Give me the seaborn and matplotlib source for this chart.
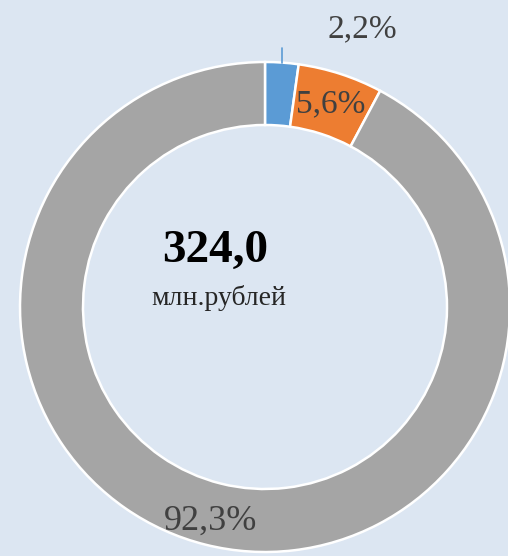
import numpy as np
import matplotlib
matplotlib.use("Agg")
import matplotlib.pyplot as plt
import seaborn as sns

# данные
categories = ["Прочее", "Категория 2", "Категория 3"]
shares = [2.2, 5.6, 92.3]
labels = ["2,2%", "5,6%", "92,3%"]
colors = ["#5b9bd5", "#ed7d31", "#a5a5a5"]
total_value = "324,0"
total_unit = "млн.рублей"

sns.set_theme(style="white")
plt.rcParams["font.family"] = ["Liberation Serif", "DejaVu Serif"]

bg = "#dce6f2"
fig = plt.figure(figsize=(5.08, 5.56), dpi=100, facecolor=bg)
ax = fig.add_axes([0, 0, 1, 1])
ax.set_facecolor(bg)

cx, cy, R, w = 265, 249, 245, 63
wedges, _ = ax.pie(shares, colors=colors, startangle=90, counterclock=False,
                   radius=R, center=(cx, cy),
                   wedgeprops=dict(width=w, edgecolor="white", linewidth=1.8))

txt = "#404040"
# подписи долей по середине сегментов
cum = np.cumsum([0] + shares[:-1])
total = sum(shares)
for i, (s, lab) in enumerate(zip(shares, labels)):
    mid = np.deg2rad(90 - (cum[i] + s / 2) / total * 360)
    if i == 0:
        x0 = cx + R * np.cos(mid)
        y0 = cy + R * np.sin(mid)
        ax.plot([x0, x0], [y0, y0 + 15], color=colors[0], lw=1.2)
        ax.text(362, 527, lab, ha="center", va="center", fontsize=24, color=txt)
    elif i == 1:
        r = R - w / 2
        ax.text(cx + r * np.cos(mid), cy + r * np.sin(mid), lab,
                ha="center", va="center", fontsize=24, color=txt)
    else:
        r = R - 22
        ax.text(cx + r * np.cos(mid), cy + r * np.sin(mid) + 2, lab,
                ha="center", va="center", fontsize=26, color=txt)

ax.text(215, 305, total_value, ha="center", va="center", fontsize=34,
        fontweight="bold", color="black")
ax.text(219, 258, total_unit, ha="center", va="center", fontsize=20, color="#262626")

ax.set_xlim(0, 508)
ax.set_ylim(0, 556)
ax.set_aspect("equal")
ax.axis("off")

fig.savefig("out.png", dpi=100, facecolor=bg)
